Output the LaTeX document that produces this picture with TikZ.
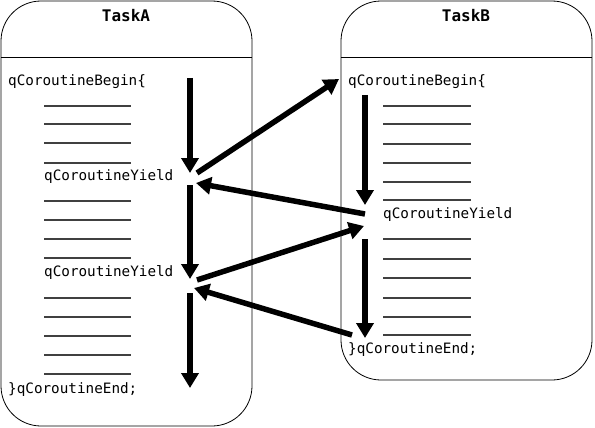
\documentclass[tikz,border=0pt]{standalone}
\usepackage{fontspec}
\setmonofont{DejaVu Sans Mono}
\usetikzlibrary{arrows.meta}
\tikzset{
  task/.style={draw,line width=0.8pt,rounded corners=40pt},
  stub/.style={black!75,line width=1.2pt},
  code/.style={font=\ttfamily\fontsize{14.3}{16}\selectfont,anchor=base west,inner sep=0pt},
  title/.style={font=\ttfamily\bfseries\fontsize{16}{18}\selectfont,anchor=base,inner sep=0pt},
  flow/.style={line width=5.5pt,-{Triangle[length=15pt,width=17pt]}}
}
\begin{document}
\begin{tikzpicture}[x=1pt,y=-1pt]
\useasboundingbox (0,0) rectangle (595,428);
% the two tasks
\draw[task] (1,1) rectangle (252,426);
\draw (1,57) -- (252,57);
\draw[task] (341,1) rectangle (592,380);
\draw (341,57) -- (592,57);
\node[title] (titleA) at (126,22) {TaskA};
\node[title] (titleB) at (466,22) {TaskB};
% code of TaskA
\node[code] (beginA) at (8,85) {qCoroutineBegin\{};
\node[code] (yieldA1) at (44,180) {qCoroutineYield};
\node[code] (yieldA2) at (44,276) {qCoroutineYield};
\node[code] (endA) at (8,393) {\}qCoroutineEnd;};
\foreach \y in {106,124,143,163,201,220,239,258,298,317,336,355,374}
  \draw[stub] (44,\y) -- (131,\y);
% code of TaskB
\node[code] (beginB) at (348,85) {qCoroutineBegin\{};
\node[code] (yieldB) at (383,218) {qCoroutineYield};
\node[code] (endB) at (348,353) {\}qCoroutineEnd;};
\foreach \y in {106,124,144,163,182,200,239,259,278,298,317,335}
  \draw[stub] (383,\y) -- (471,\y);
% points of the flow
\coordinate (a0) at (190,78);
\coordinate (a1) at (190,173);
\coordinate (a1out) at (197,173);
\coordinate (a1in) at (196,183);
\coordinate (a2top) at (190,185);
\coordinate (a2) at (190,279);
\coordinate (a2out) at (197,280);
\coordinate (a2in) at (194,288);
\coordinate (a3top) at (190,293);
\coordinate (a3) at (190,388);
\coordinate (b0in) at (339,79);
\coordinate (b0) at (365,95);
\coordinate (b1) at (365,205);
\coordinate (b1out) at (365,214);
\coordinate (b1in) at (364,226);
\coordinate (b2top) at (365,239);
\coordinate (b2) at (365,338);
\coordinate (b2out) at (352,335);
% arrows
\draw[flow] (a0) -- (a1);
\draw[flow] (a1out) -- (b0in);
\draw[flow] (b0) -- (b1);
\draw[flow] (b1out) -- (a1in);
\draw[flow] (a2top) -- (a2);
\draw[flow] (a2out) -- (b1in);
\draw[flow] (b2top) -- (b2);
\draw[flow] (b2out) -- (a2in);
\draw[flow] (a3top) -- (a3);
\end{tikzpicture}
\end{document}
